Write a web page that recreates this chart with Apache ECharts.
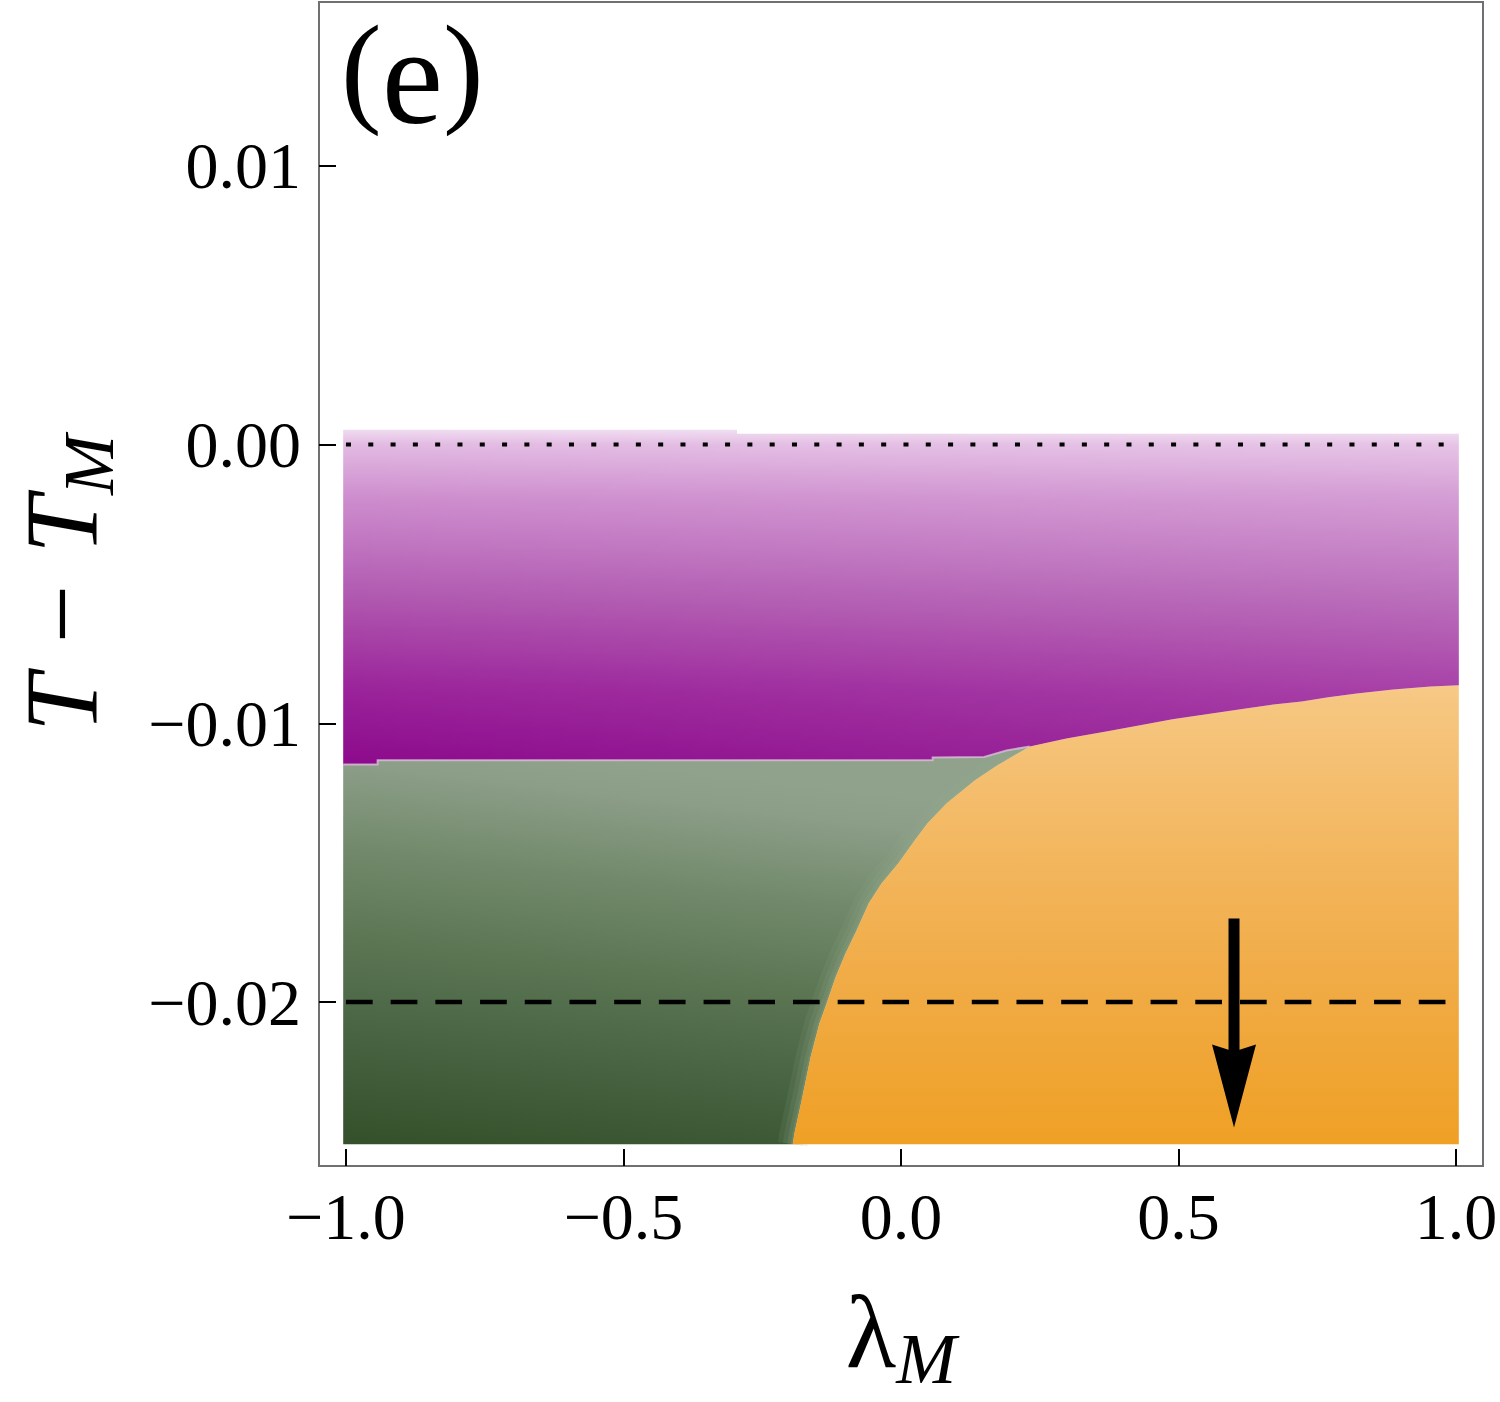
<!DOCTYPE html>
<html>
<head>
<meta charset="utf-8">
<title>Panel (e): T - T_M vs lambda_M</title>
<script src="https://cdn.jsdelivr.net/npm/echarts@6/dist/echarts.min.js"></script>
<style>
    html, body { margin: 0; padding: 0; background: #ffffff; }
    #chart { width: 1500px; height: 1402px; }
</style>
</head>
<body>
<div id="chart"></div>
<script>
// Phase map of T - T_M against lambda_M, panel (e)

// tick values on both axes
const xTicks = [-1.0, -0.5, 0.0, 0.5, 1.0];
const yTicks = [-0.02, -0.01, 0.00, 0.01];

// edges of the sampled area
const lamLeft = -1.005;
const lamRight = 1.005;
const tBottom = -0.0251;

// upper edge of the purple region, [lambda_M, T - T_M]
const purpleTop = [
    [-1.005, 0.00053], [-0.2955, 0.00053], [-0.2955, 0.00038], [1.005, 0.00038]
];

// purple / green border, left to right (ends at the triple point)
const purpleGreen = [
    [-1.005, -0.01148], [-0.943, -0.01148], [-0.943, -0.01133], [0.057, -0.01133],
    [0.057, -0.01123], [0.150, -0.01121], [0.190, -0.01098], [0.232, -0.01083]
];

// purple / orange border, left to right (starts at the triple point)
const purpleOrange = [
    [0.232, -0.01083], [0.298, -0.01055], [0.372, -0.01029], [0.448, -0.01001],
    [0.489, -0.00986], [0.572, -0.00961], [0.621, -0.00947], [0.671, -0.00933],
    [0.722, -0.00922], [0.770, -0.00907], [0.821, -0.00893], [0.887, -0.00879],
    [0.954, -0.00868], [1.005, -0.00864]
];

// green / orange border, top to bottom (starts at the triple point)
const greenOrange = [
    [0.232, -0.01083], [0.174, -0.01151], [0.133, -0.01205], [0.082, -0.01288],
    [0.048, -0.01359], [0.025, -0.01420], [-0.005, -0.01503], [-0.035, -0.01575],
    [-0.058, -0.01646], [-0.080, -0.01743], [-0.100, -0.01826], [-0.118, -0.01912],
    [-0.134, -0.02005], [-0.147, -0.02077], [-0.163, -0.02199], [-0.179, -0.02353],
    [-0.192, -0.02471], [-0.195, -0.0251]
];

// reference lines and the arrow
const refLam = [-1.0, 1.0];
const dottedT = 0.0;
const dashedT = -0.02;
const arrowLam = 0.6;
const arrowT = [-0.0170, -0.0245];

function grad(x, y, x2, y2, stops) {
    return new echarts.graphic.LinearGradient(x, y, x2, y2,
        stops.map(s => ({ offset: s[0], color: s[1] })));
}

const regions = [
    {
        name: 'green',
        points: purpleGreen
            .concat(greenOrange.slice(1))
            .concat([[lamLeft, tBottom]]),
        fill: grad(0, 1, 0.2, 0, [
            [0, '#33502a'], [0.25, '#466240'], [0.5, '#5c7654'],
            [0.72, '#728a6b'], [0.92, '#8c9d88'], [1, '#90a18c']
        ]),
        glow: true
    },
    {
        name: 'orange',
        points: purpleOrange
            .concat([[lamRight, tBottom]])
            .concat(greenOrange.slice().reverse().slice(0, -1)),
        fill: grad(0, 0, 0, 1, [
            [0, '#f7ca88'], [0.04, '#f6c680'], [0.33, '#f3b862'],
            [0.62, '#f1ac48'], [1, '#efa025']
        ])
    },
    {
        name: 'purple',
        points: purpleTop
            .concat(purpleOrange.slice().reverse())
            .concat(purpleGreen.slice().reverse().slice(1)),
        fill: grad(0, 0, 0, 1, [
            [0, '#f0dcf0'], [0.045, '#e2bae2'], [0.2, '#ce8ece'],
            [0.5, '#b058b0'], [0.78, '#9a229a'], [1, '#8c0a8c']
        ]),
        tint: grad(0, 0, 1, 0, [
            [0, 'rgba(255,255,255,0)'], [1, 'rgba(255,255,255,0.14)']
        ]),
        edge: true
    }
];

function renderRegion(params, api) {
    const r = regions[params.dataIndex];
    const pts = r.points.map(p => api.coord(p));
    const children = [{ type: 'polygon', shape: { points: pts }, style: { fill: r.fill } }];
    if (r.tint) {
        children.push({ type: 'polygon', shape: { points: pts }, style: { fill: r.tint } });
    }
    if (r.glow) {
        // soft light fringe of the green phase along the orange border
        const line = greenOrange.map(p => api.coord(p));
        [[30, 0.12], [20, 0.14], [11, 0.18], [4, 0.22]].forEach(function (w) {
            children.push({ type: 'polyline', shape: { points: line },
                style: { fill: 'none', stroke: 'rgba(150,172,140,' + w[1] + ')', lineWidth: w[0] } });
        });
    }
    if (r.edge) {
        const line = purpleGreen.map(p => api.coord(p));
        children.push({ type: 'polyline', shape: { points: line },
            style: { fill: 'none', stroke: 'rgba(215,190,215,0.8)', lineWidth: 2 } });
    }
    return { type: 'group', children: children };
}

function renderArrow(params, api) {
    const top = api.coord([api.value(0), api.value(1)]);
    const tip = api.coord([api.value(0), api.value(2)]);
    const headLen = 83, notch = 76, half = 22;
    return {
        type: 'group',
        children: [
            { type: 'line',
              shape: { x1: top[0], y1: top[1], x2: tip[0], y2: tip[1] - notch + 2 },
              style: { stroke: '#000', lineWidth: 11 } },
            { type: 'polygon',
              shape: { points: [
                  [tip[0], tip[1]], [tip[0] - half, tip[1] - headLen],
                  [tip[0], tip[1] - notch], [tip[0] + half, tip[1] - headLen]
              ] },
              style: { fill: '#000' } }
        ]
    };
}

function minusFmt(digits) {
    return function (v) {
        const s = Math.abs(v).toFixed(digits);
        return v < -1e-12 ? '\u2212' + s : s;
    };
}

const serif = '"Liberation Serif", "Times New Roman", serif';

// big symbol plus a subscript pushed down by padding, both in one line box
function nameRich(mainItalic) {
    return {
        a: { fontFamily: serif, fontSize: 104, lineHeight: 104, padding: [0, 0, 12, 0],
             fontStyle: mainItalic ? 'italic' : 'normal', color: '#000' },
        b: { fontFamily: serif, fontSize: 72, lineHeight: 72, padding: [44, 0, 0, 0],
             fontStyle: 'italic', color: '#000' }
    };
}

const chart = echarts.init(document.getElementById('chart'), null, { renderer: 'svg' });

chart.setOption({
    animation: false,
    backgroundColor: '#ffffff',
    grid: {
        left: 319, top: 2, width: 1164, height: 1164,
        containLabel: false,
        outerBoundsMode: 'none',
        show: true, borderColor: '#707070', borderWidth: 2,
        backgroundColor: 'transparent'
    },
    xAxis: {
        type: 'value',
        min: -1.0486, max: 1.0486,
        axisLine: { show: false, onZero: false },
        splitLine: { show: false },
        axisTick: {
            show: true, inside: true, length: 17, customValues: xTicks,
            lineStyle: { color: '#000', width: 2 }
        },
        axisLabel: {
            customValues: xTicks, formatter: minusFmt(1), margin: 17,
            color: '#000', fontFamily: serif, fontSize: 66
        },
        name: '{a|\u03bb}{b|M}',
        nameLocation: 'middle',
        nameGap: 119,
        nameTextStyle: { color: '#000', fontFamily: serif, rich: nameRich(false) }
    },
    yAxis: {
        type: 'value',
        min: -0.02588, max: 0.01587,
        axisLine: { show: false, onZero: false },
        splitLine: { show: false },
        axisTick: {
            show: true, inside: true, length: 17, customValues: yTicks,
            lineStyle: { color: '#000', width: 2 }
        },
        axisLabel: {
            customValues: yTicks, formatter: minusFmt(2), margin: 18,
            color: '#000', fontFamily: serif, fontSize: 66
        },
        name: '{a|T \u2212 T}{b|M}',
        nameLocation: 'middle',
        nameRotate: 90,
        nameGap: 200,
        nameTextStyle: { color: '#000', fontFamily: serif, rich: nameRich(true) }
    },
    graphic: [
        {
            type: 'text', left: 341, top: 7, z: 10,
            style: {
                text: '{p|(}{e|e}{p|)}',
                rich: {
                    p: { fontFamily: serif, fontSize: 122, lineHeight: 122, fill: '#000' },
                    e: { fontFamily: serif, fontSize: 138, lineHeight: 110, verticalAlign: 'top',
                         fill: '#000' }
                }
            }
        }
    ],
    series: [
        {
            name: 'phases',
            type: 'custom',
            z: 1,
            renderItem: renderRegion,
            data: regions.map(r => r.points[0]),
            silent: true
        },
        {
            name: 'T = T_M',
            type: 'line',
            z: 3,
            symbol: 'none',
            data: refLam.map(l => [l, dottedT]),
            lineStyle: { color: '#000', width: 4, type: [5, 17.3] },
            silent: true
        },
        {
            name: 'T - T_M = -0.02',
            type: 'line',
            z: 3,
            symbol: 'none',
            data: refLam.map(l => [l, dashedT]),
            lineStyle: { color: '#000', width: 4.5, type: [26.7, 18] },
            silent: true
        },
        {
            name: 'arrow',
            type: 'custom',
            z: 4,
            renderItem: renderArrow,
            encode: { x: 0, y: [1, 2] },
            data: [[arrowLam, arrowT[0], arrowT[1]]],
            silent: true
        }
    ]
});
</script>
</body>
</html>
